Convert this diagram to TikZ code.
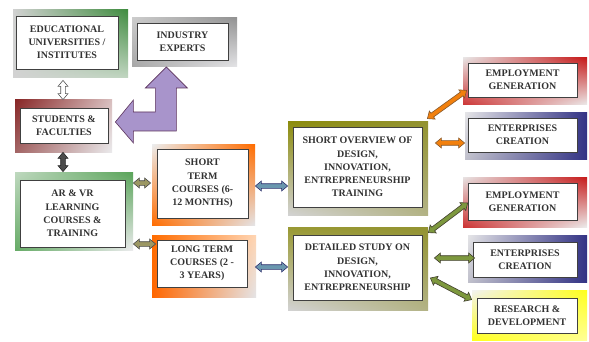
\documentclass[tikz,border=0pt]{standalone}
\usepackage{fontspec}
\setmainfont{Liberation Serif}
\usetikzlibrary{calc,shadings}
\definecolor{txt}{HTML}{333333}
\definecolor{purp}{HTML}{A894CB}
\newcommand\arhl{6pt}
\newcommand\arhw{5pt}
\newcommand\arsw{2.3pt}
\newcommand\dblarr[3]{%
  \path #2 coordinate (aa) #3 coordinate (bb);
  \path ($(aa)!\arhl!(bb)$) coordinate (a1) ($(bb)!\arhl!(aa)$) coordinate (b1);
  \filldraw[arr,#1] (aa) -- ($(a1)!\arhw!90:(bb)$) -- ($(a1)!\arsw!90:(bb)$) -- ($(b1)!\arsw!-90:(aa)$) -- ($(b1)!\arhw!-90:(aa)$) -- (bb) -- ($(b1)!\arhw!90:(aa)$) -- ($(b1)!\arsw!90:(aa)$) -- ($(a1)!\arsw!-90:(bb)$) -- ($(a1)!\arhw!-90:(bb)$) -- cycle;}
\newcommand\frm[8]{\shade[upper left=#5, upper right=#6, lower left=#7, lower right=#8] (#1,#2) rectangle (#3,#4);}
\tikzset{
  ibox/.style={draw=black!75, line width=0.8pt, fill=white, align=center, inner sep=1pt,
    font=\fontsize{10}{13.2}\selectfont\bfseries, text=txt},
  arr/.style={line width=0.6pt, line join=miter},
}
\begin{document}
\begin{tikzpicture}[x=1pt,y=-1pt]
\useasboundingbox[fill=white] (0,0) rectangle (589,342);
% frames
\frm{13}{10}{128}{78}{black!18}{green!40!black!75}{gray!35}{green!20!gray!40}
\frm{132}{18}{237}{67}{gray!40}{gray!85}{gray!70}{blue!5!gray!20}
\frm{15}{100}{112}{153}{red!45!black!85}{red!25!gray!40}{red!40!black!60}{blue!5!gray!15}
\frm{15}{172}{133}{250}{green!25!gray!40}{green!45!black!65}{green!45!black!60}{blue!5!gray!15}
\frm{152}{145}{255}{225}{gray!15}{orange!85!red}{orange!85!red}{blue!5!gray!20}
\frm{152}{235}{256}{297}{orange!85!red}{red!10!orange!30}{orange!80!red}{blue!5!gray!20}
\frm{288}{122}{428}{215}{olive!55!gray!90}{olive!45!gray!85}{gray!35}{olive!30!gray!60}
\frm{288}{227}{428}{310}{olive!50!gray!80}{olive!45!gray!85}{gray!35}{olive!30!gray!60}
\frm{463}{58}{587}{105}{red!8!gray!20}{red!75!black!90}{red!75!black!80}{gray!15}
\frm{465}{113}{587}{160}{blue!5!gray!20}{blue!40!black!80}{blue!10!gray!45}{blue!40!black!80}
\frm{463}{177}{587}{227}{red!8!gray!20}{red!75!black!90}{red!75!black!80}{gray!15}
\frm{468}{235}{587}{282}{blue!5!gray!20}{blue!40!black!80}{blue!10!gray!45}{blue!40!black!80}
\frm{472}{290}{587}{340}{gray!10}{yellow!90!white}{yellow!90!white}{yellow!40!white}
% boxes
\node[ibox, minimum width=102pt, minimum height=53pt] (edu) at (67,42.5) {EDUCATIONAL\\UNIVERSITIES /\\INSTITUTES};
\node[ibox, minimum width=91pt, minimum height=37pt] (ind) at (182.5,41.5) {INDUSTRY\\EXPERTS};
\node[ibox, minimum width=88pt, minimum height=35pt] (stu) at (64,125.5) {STUDENTS \&\\FACULTIES};
\node[ibox, minimum width=105pt, minimum height=67pt] (ar) at (72.5,213.5) {AR \& VR\\LEARNING\\COURSES \&\\TRAINING};
\node[ibox, minimum width=91pt, minimum height=69pt] (st) at (202.5,183.5) {SHORT\\TERM\\COURSES (6-\\12 MONTHS)};
\node[ibox, minimum width=90pt, minimum height=47pt] (lt) at (202,263.5) {LONG TERM\\COURSES (2 -\\3 YEARS)};
\node[ibox, minimum width=129pt, minimum height=80pt] (so) at (357.5,167) {SHORT OVERVIEW OF\\DESIGN,\\INNOVATION,\\ENTREPRENEURSHIP\\TRAINING};
\node[ibox, minimum width=129pt, minimum height=65pt] (ds) at (357.5,267.5) {DETAILED STUDY ON\\DESIGN,\\INNOVATION,\\ENTREPRENEURSHIP};
\node[ibox, minimum width=109pt, minimum height=34pt] (eg1) at (522.5,80) {EMPLOYMENT\\GENERATION};
\node[ibox, minimum width=109pt, minimum height=34pt] (ec1) at (522.5,135) {ENTERPRISES\\CREATION};
\node[ibox, minimum width=109pt, minimum height=37pt] (eg2) at (522.5,201.5) {EMPLOYMENT\\GENERATION};
\node[ibox, minimum width=104pt, minimum height=35pt] (ec2) at (525,259.5) {ENTERPRISES\\CREATION};
\node[ibox, minimum width=100pt, minimum height=35pt] (rd) at (527,315.5) {RESEARCH \&\\DEVELOPMENT};
% purple L arrow
\coordinate (pl) at ($(stu.east)+(7,-3.5)$);
\filldraw[fill=purp, draw=violet!40!black!80, line width=0.6pt, line join=miter]
  (pl) -- ($(pl)+(18,-22)$) -- ($(pl)+(18,-10)$) -- ($(pl)+(40,-10)$) -- ($(pl)+(40,-34)$)
  -- ($(pl)+(30,-34)$) -- ($(pl)+(51,-55)$) -- ($(pl)+(72,-34)$) -- ($(pl)+(61,-34)$)
  -- ($(pl)+(61,9)$) -- ($(pl)+(18,9)$) -- ($(pl)+(18,21)$) -- cycle;
% arrows
\dblarr{fill=white, draw=black!65}{($(edu.south)+(-4,11)$)}{($(stu.north)+(-1,-8)$)}
\dblarr{fill=black!70, draw=black!85}{($(stu.south)+(-1,9)$)}{($(ar.north)+(-9.5,-8)$)}
\dblarr{fill=olive!40!gray!90, draw=black!70}{($(ar.east)+(8,-30.5)$)}{($(st.west)+(-6,-0.5)$)}
\dblarr{fill=olive!40!gray!90, draw=black!70}{($(ar.east)+(8,30.5)$)}{($(lt.west)+(-1,-19.5)$)}
\dblarr{fill=blue!35!cyan!30!gray!90, draw=blue!30!black!80}{($(st.east)+(7,2.5)$)}{($(so.west)+(-5,19)$)}
\dblarr{fill=blue!35!cyan!30!gray!90, draw=blue!30!black!80}{($(lt.east)+(8,3.5)$)}{($(ds.west)+(-5,-0.5)$)}
\dblarr{fill=orange!80!brown, draw=brown!70!black}{($(so.north east)+(5,-8)$)}{($(eg1.south west)+(-1,-7)$)}
\dblarr{fill=orange!80!brown, draw=brown!70!black}{($(so.east)+(13,-24)$)}{($(ec1.west)+(-3,8)$)}
\dblarr{fill=olive!60!green!70!gray, draw=olive!30!black}{($(ds.north east)+(6,-2)$)}{($(eg2.west)+(0,1.5)$)}
\dblarr{fill=olive!60!green!70!gray, draw=olive!30!black}{($(ds.east)+(12,-9.5)$)}{($(ec2.west)+(2,-1.5)$)}
\dblarr{fill=olive!60!green!70!gray, draw=olive!30!black}{($(ds.east)+(8,10.5)$)}{($(rd.north west)+(-5,2)$)}
\end{tikzpicture}
\end{document}
